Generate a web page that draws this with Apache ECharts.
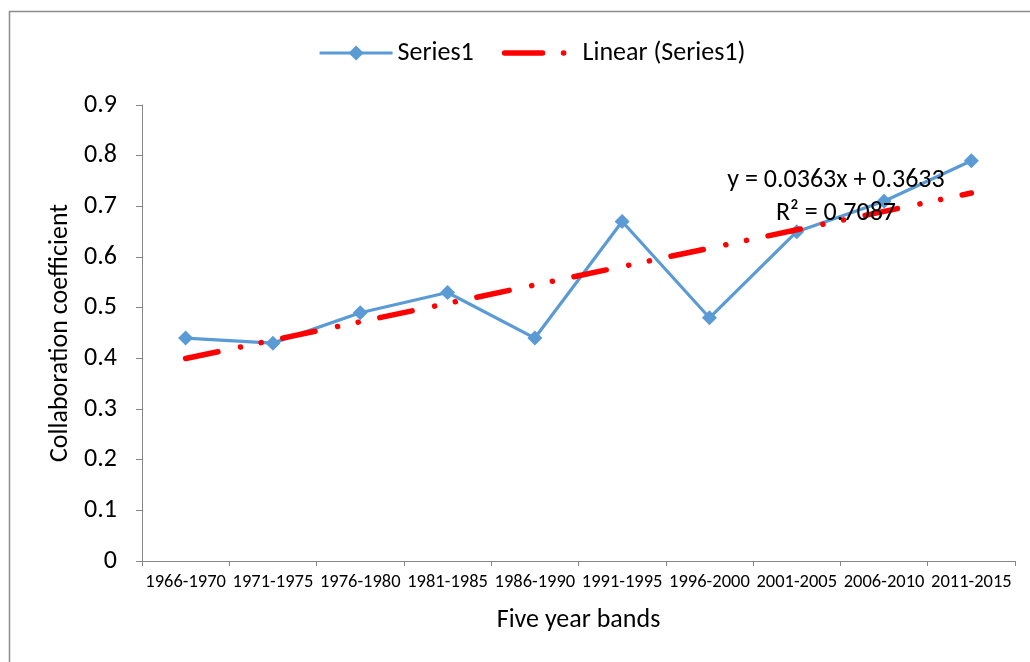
<!DOCTYPE html>
<html>
<head>
<meta charset="utf-8">
<script src="https://cdn.jsdelivr.net/npm/echarts@6/dist/echarts.min.js"></script>
<style>
html,body{margin:0;padding:0;background:#fff;}
#chart{width:1030px;height:662px;}
</style>
</head>
<body>
<div id="chart"></div>
<script>
var categories = ['1966-1970','1971-1975','1976-1980','1981-1985','1986-1990','1991-1995','1996-2000','2001-2005','2006-2010','2011-2015'];
var series1 = [0.44, 0.43, 0.49, 0.53, 0.44, 0.67, 0.48, 0.65, 0.71, 0.79];
var trendEnds = [0.3996, null, null, null, null, null, null, null, null, 0.7263];
var yTicks = {min: 0, max: 0.9, interval: 0.1};
var equationText = 'y = 0.0363x + 0.3633\nR² = 0.7087';

var FONT = "Carlito, Calibri, 'Liberation Sans', Arial, sans-serif";
var chart = echarts.init(document.getElementById('chart'), null, {renderer: 'canvas'});
chart.setOption({
  animation: false,
  backgroundColor: '#ffffff',
  textStyle: {fontFamily: FONT, color: '#000'},
  grid: {left: 142, right: 15, top: 105, bottom: 101, containLabel: false},
  legend: {
    show: true,
    top: 35,
    left: 313,
    orient: 'horizontal',
    itemWidth: 73,
    itemHeight: 19,
    itemGap: 28,
    textStyle: {fontFamily: FONT, fontSize: 26, color: '#000'},
    data: [
      {name: 'Series1', lineStyle: {width: 3.2}},
      {name: 'Linear (Series1)', itemStyle: {opacity: 0},
       lineStyle: {width: 5.5, type: [38, 21, 0.1, 100], cap: 'round'}}
    ]
  },
  xAxis: {
    type: 'category',
    data: categories,
    boundaryGap: true,
    name: 'Five year bands',
    nameLocation: 'middle',
    nameGap: 46,
    nameTextStyle: {fontFamily: FONT, fontSize: 26, color: '#000'},
    axisLine: {lineStyle: {color: '#868686', width: 1}},
    axisTick: {show: true, length: 5, alignWithLabel: false, lineStyle: {color: '#868686'}},
    axisLabel: {fontFamily: FONT, fontSize: 18.5, color: '#000', margin: 12, interval: 0},
    splitLine: {show: false}
  },
  yAxis: {
    type: 'value',
    min: yTicks.min, max: yTicks.max, interval: yTicks.interval,
    name: 'Collaboration coefficient',
    nameLocation: 'middle',
    nameGap: 64,
    nameTextStyle: {fontFamily: FONT, fontSize: 26, color: '#000'},
    axisLine: {show: true, lineStyle: {color: '#868686', width: 1}},
    axisTick: {show: true, length: 6, lineStyle: {color: '#868686'}},
    axisLabel: {fontFamily: FONT, fontSize: 26, color: '#000', margin: 25},
    splitLine: {show: false}
  },
  series: [
    {
      name: 'Series1',
      type: 'line',
      data: series1,
      symbol: 'diamond',
      symbolSize: 15,
      lineStyle: {color: '#5B9BD5', width: 3.2},
      itemStyle: {color: '#5B9BD5'},
      z: 2
    },
    {
      name: 'Linear (Series1)',
      type: 'line',
      data: trendEnds,
      connectNulls: true,
      symbol: 'none',
      lineStyle: {color: '#FF0000', width: 5.5, type: [33, 23, 0.1, 21, 0.1, 22], cap: 'round'},
      itemStyle: {color: '#FF0000'},
      z: 3
    }
  ],
  graphic: [
    {
      type: 'rect', silent: true, z: -1,
      shape: {x: 9.5, y: 11.5, width: 1200, height: 800},
      style: {fill: 'none', stroke: '#8c8c8c', lineWidth: 1.5}
    },
    {
      type: 'text', z: 10,
      x: 836, y: 164,
      style: {text: equationText, fontFamily: FONT, fontSize: 26, fill: '#000', textAlign: 'center', lineHeight: 33}
    }
  ]
});
</script>
</body>
</html>
